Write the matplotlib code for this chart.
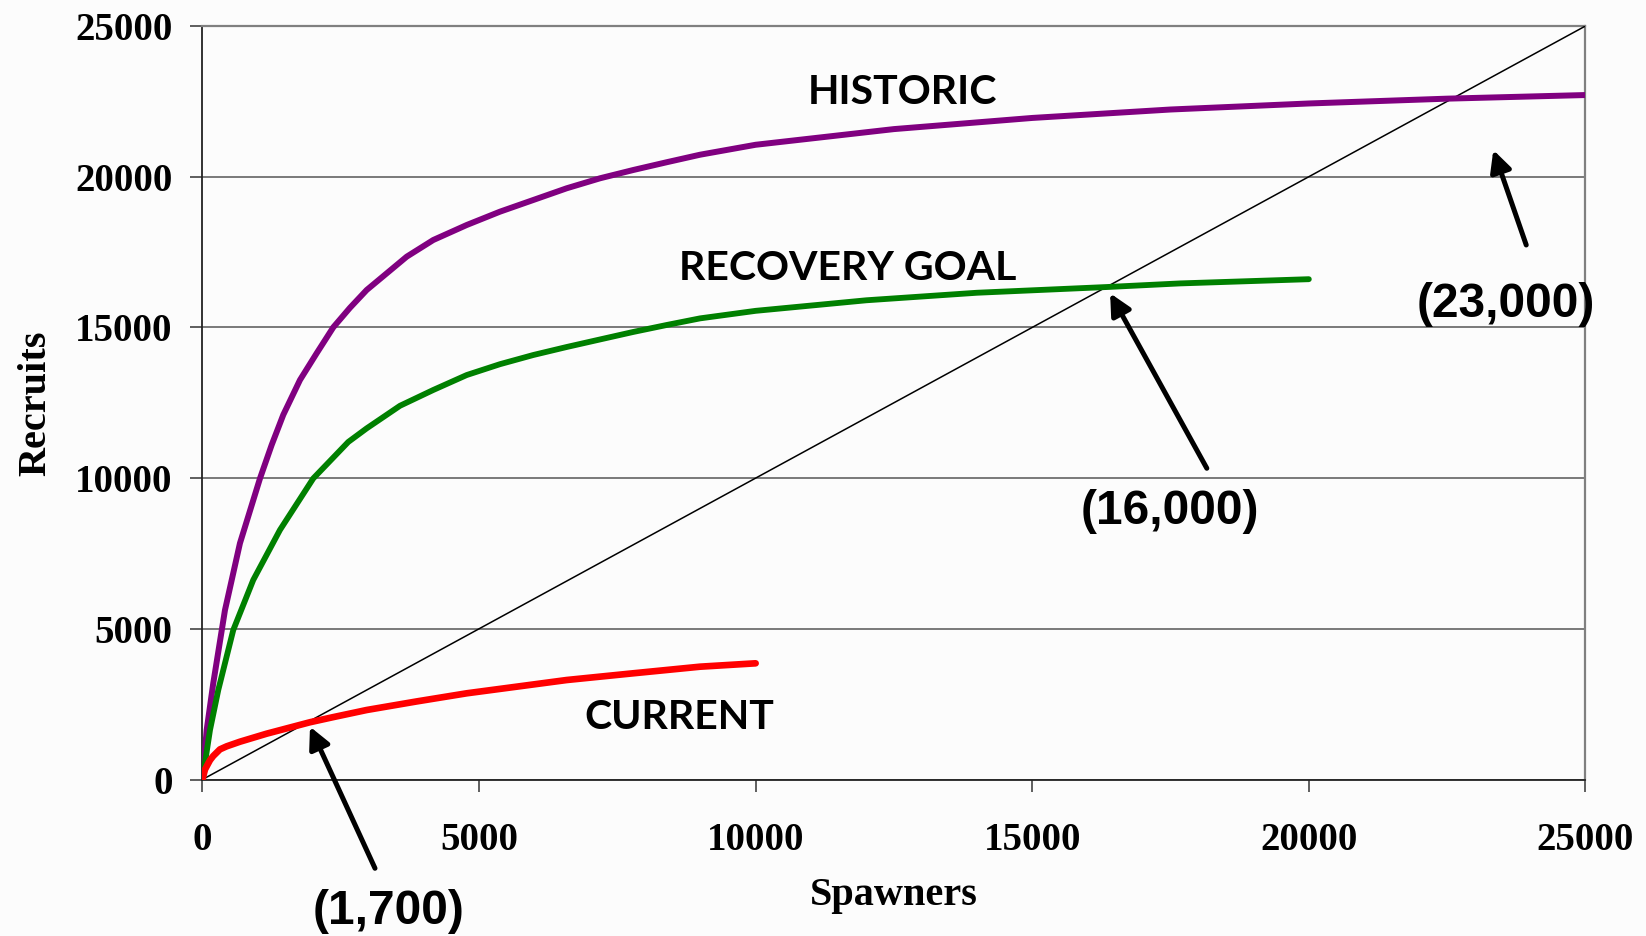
import matplotlib.pyplot as plt

# Stock-recruitment curves
historic_s = [0, 76, 195, 407, 678, 1040, 1251, 1461, 1763, 2064, 2365, 2666, 2969, 3269,
              3692, 4172, 4777, 5378, 5981, 6584, 7187, 7788, 8391, 8995, 10000, 12500,
              15000, 17500, 20000, 22500, 25000]
historic_r = [0, 1640, 3190, 5620, 7840, 9990, 11100, 12100, 13256, 14141, 15004, 15650, 16242,
              16700, 17347, 17900, 18398, 18840, 19228, 19616, 19948, 20223, 20480, 20730, 21060,
              21580, 21950, 22230, 22430, 22590, 22710]

recovery_s = [0, 136, 286, 557, 918, 1401, 2003, 2636, 2968, 3571, 4172, 4777, 5378, 5981,
              6584, 7185, 7789, 8391, 8995, 10000, 12000, 14000, 16348, 17674, 20000]
recovery_r = [0, 1640, 2970, 4960, 6620, 8280, 9990, 11200, 11650, 12400, 12924, 13420, 13780,
              14085, 14350, 14600, 14850, 15080, 15300, 15550, 15900, 16150, 16340, 16460, 16600]

current_s = [0, 45, 136, 195, 316, 437, 678, 1160, 1944, 2365, 2969, 3872, 4777, 5680,
             6585, 7788, 8995, 10000]
current_r = [0, 330, 640, 780, 1000, 1100, 1254, 1520, 1900, 2070, 2306, 2590, 2860, 3080,
             3301, 3524, 3743, 3855]

replacement = [0, 25000]

ticks = [0, 5000, 10000, 15000, 20000, 25000]

fig = plt.figure(figsize=(16.46, 9.36), dpi=100)
fig.patch.set_facecolor('#fcfcfc')
ax = fig.add_axes([0.1230, 0.1672, 0.8402, 0.8050])
ax.set_facecolor('#fcfcfc')

ax.plot(replacement, replacement, color='black', lw=1.1, zorder=3)
ax.plot(historic_s, historic_r, color='#800080', lw=4.3, solid_capstyle='round',
        solid_joinstyle='round', zorder=4)
ax.plot(recovery_s, recovery_r, color='#008000', lw=4.2, solid_capstyle='round',
        solid_joinstyle='round', zorder=4)
ax.plot(current_s, current_r, color='#ff0000', lw=4.8, solid_capstyle='round',
        solid_joinstyle='round', zorder=4)

ax.set_xlim(0, 25000)
ax.set_ylim(0, 25000)
ax.set_xticks(ticks)
ax.set_yticks(ticks)
ax.grid(axis='y', color='#555555', lw=1.1)
ax.set_axisbelow(True)

tick_font = {'family': 'Liberation Serif', 'weight': 'bold', 'size': 28}
ax.set_xticklabels([str(t) for t in ticks], fontdict=tick_font)
ax.set_yticklabels([str(t) for t in ticks], fontdict=tick_font)
ax.tick_params(axis='x', direction='out', length=8.5, width=1.2, color='#444444', pad=22)
ax.tick_params(axis='y', direction='out', length=8.5, width=1.2, color='#444444', pad=13)

for side in ['top', 'right']:
    ax.spines[side].set_color('#808080')
    ax.spines[side].set_linewidth(1.6)
for side in ['left', 'bottom']:
    ax.spines[side].set_color('#222222')
    ax.spines[side].set_linewidth(1.3)

ax.set_xlabel('Spawners', fontdict={'family': 'Liberation Serif', 'weight': 'bold', 'size': 29},
              labelpad=13)
ax.set_ylabel('Recruits', fontdict={'family': 'Liberation Serif', 'weight': 'bold', 'size': 29},
              labelpad=15)

# curve names
lab = {'family': 'Lato', 'weight': 'bold', 'size': 29.5, 'ha': 'center', 'va': 'center'}
ax.text(12647, 22795, 'HISTORIC', **lab)
ax.text(11662, 16971, 'RECOVERY GOAL', **lab)
ax.text(8615, 2054, 'CURRENT', **lab)

# equilibrium annotations
arrow = dict(arrowstyle='-|>', color='black', lw=3.6, mutation_scale=32, shrinkA=0, shrinkB=0)
num = dict(family='Liberation Sans', weight='bold', size=34.5, ha='center', va='center',
           clip_on=False)
ax.annotate('', xy=(23335, 20887), xytext=(23930, 17735), arrowprops=arrow, annotation_clip=False)
ax.text(23558, 15761, '(23,000)', **num)
ax.annotate('', xy=(16408, 16132), xytext=(18156, 10326), arrowprops=arrow, annotation_clip=False)
ax.text(17489, 8886, '(16,000)', **num)
ax.annotate('', xy=(1944, 1752), xytext=(3119, -2946), arrowprops=arrow, annotation_clip=False)
ax.text(3372, -4380, '(1,700)', **num)

fig.savefig('out.png', dpi=100)
